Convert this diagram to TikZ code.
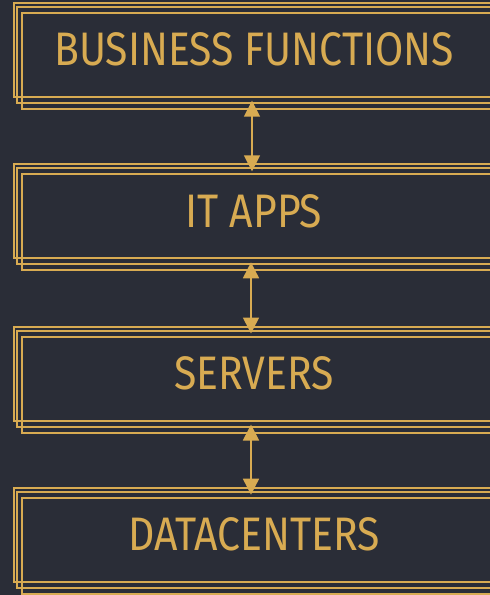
\documentclass[tikz,border=0pt]{standalone}
\usepackage{fontspec}
\setmainfont{Fira Sans}[FakeStretch=0.87]
\usetikzlibrary{arrows.meta}
\definecolor{bg}{RGB}{42,45,55}
\definecolor{gold}{RGB}{216,171,82}
\tikzset{
  boxA/.style={draw=gold, line width=2pt, minimum width=481pt, minimum height=94pt,
    inner sep=0pt, text=gold, font=\fontsize{47}{50}\selectfont},
  outl/.style={draw=gold, line width=2pt},
  arr/.style={draw=gold, line width=1.6pt,
    {Triangle[width=16pt,length=16pt]}-{Triangle[width=16pt,length=16pt]}}
}
\begin{document}
\begin{tikzpicture}[x=1pt,y=-1pt]
\fill[bg] (0,0) rectangle (490,595);
\useasboundingbox (0,0) rectangle (490,595);
\begin{scope}
\clip (0,0) rectangle (490,595);
\node[boxA] (b1) at (254,49.7) {BUSINESS FUNCTIONS};
\node[boxA] (b2) at (254,211.3) {IT APPS};
\node[boxA] (b3) at (254,373.5) {SERVERS};
\node[boxA] (b4) at (254,534.7) {DATACENTERS};
\foreach \b in {b1,b2,b3,b4}{
  \draw[outl] ([shift={(4.4pt,-5pt)}]\b.north west) rectangle ([shift={(4.4pt,-5pt)}]\b.south east);
  \draw[outl] ([shift={(9pt,-11pt)}]\b.north west) rectangle ([shift={(9pt,-11pt)}]\b.south east);
}
\draw[arr] ([xshift=-2pt,yshift=-3pt]b1.south) -- ([xshift=-2pt,yshift=-8pt]b2.north);
\draw[arr] ([xshift=-3pt,yshift=-3pt]b2.south) -- ([xshift=-3pt,yshift=-8pt]b3.north);
\draw[arr] ([xshift=-3pt,yshift=-3pt]b3.south) -- ([xshift=-3pt,yshift=-8pt]b4.north);
\end{scope}
\end{tikzpicture}
\end{document}
